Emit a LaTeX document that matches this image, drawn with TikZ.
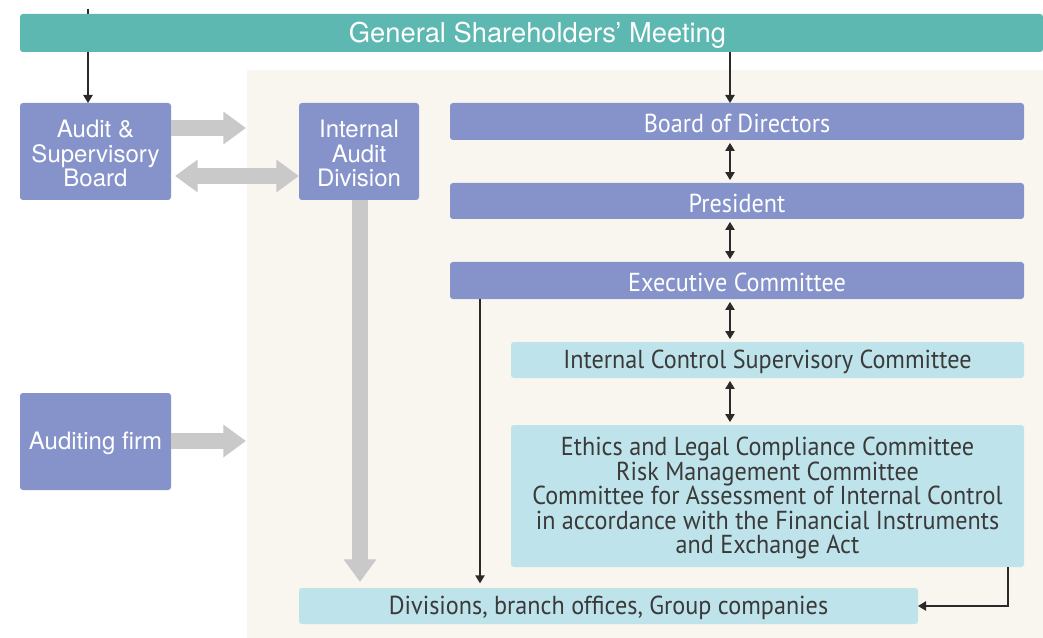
\documentclass[tikz,border=0pt]{standalone}
\usepackage{fontspec}
\usetikzlibrary{arrows.meta}
\newfontfamily\helv{TeX Gyre Heros}
\newfontfamily\cond[FakeStretch=0.93]{PT Sans}
\definecolor{tealbar}{HTML}{5CB8B0}
\definecolor{purp}{HTML}{8593CA}
\definecolor{lblue}{HTML}{BFE3EA}
\definecolor{beigebg}{HTML}{F9F6F0}
\definecolor{grayarr}{HTML}{C8C9C8}
\definecolor{dtext}{HTML}{3A3A3A}
\definecolor{lineclr}{HTML}{2A2A2A}
\newcommand\mkbox[8]{%
  \node[#6, minimum width={(#4-#2)*0.75pt}, minimum height={(#5-#3)*0.75pt}] (#1) at ({(#2+#4)/2},{(#3+#5)/2}) {};
  \node[txt, #7] (#1t) at ([yshift=-1.7pt]#1.center) {#8};}
\begin{document}
\begin{tikzpicture}[x=0.75pt,y=-0.75pt,
  basebox/.style={inner sep=0pt, outer sep=0pt, rounded corners=2.2pt},
  pbox/.style={basebox, fill=purp},
  lbox/.style={basebox, fill=lblue},
  txt/.style={inner sep=0pt, align=center},
  lefttxt/.style={text=white, font=\helv\fontsize{18}{18.4}\selectfont},
  rightw/.style={text=white, font=\cond\fontsize{19.5}{18.4}\selectfont},
  rightd/.style={text=dtext, font=\cond\fontsize{19.5}{18.4}\selectfont},
  connarrow/.style={draw=lineclr, line width=1pt, -{Triangle[width=7pt,length=6pt]}},
  dblarrow/.style={draw=lineclr, line width=1pt, {Triangle[width=7pt,length=6pt]}-{Triangle[width=7pt,length=6pt]}, shorten <=2.2pt, shorten >=2.2pt},
  grayblock/.style={draw=grayarr, line width=11.5pt, -{Triangle[width=23.5pt,length=17pt]}},
  graydbl/.style={draw=grayarr, line width=11.5pt, {Triangle[width=23.5pt,length=17pt]}-{Triangle[width=23.5pt,length=17pt]}}
]
\useasboundingbox (0,0) rectangle (1043,638);
\fill[white] (0,0) rectangle (1043,638);
\fill[beigebg] (247,70) rectangle (1043,638);

% left boxes
\mkbox{audit}{20}{103}{171}{200}{pbox}{lefttxt}{Audit \&\\Supervisory\\Board}
\mkbox{firm}{20}{393}{171}{490}{pbox}{lefttxt}{Auditing firm}
\mkbox{iad}{299}{103}{419}{200}{pbox}{lefttxt}{Internal\\Audit\\Division}

% right column
\mkbox{board}{450}{103}{1024}{140}{pbox}{rightw}{Board of Directors}
\mkbox{pres}{450}{183}{1024}{219}{pbox}{rightw}{President}
\mkbox{exec}{450}{262}{1024}{299}{pbox}{rightw}{Executive Committee}
\mkbox{ics}{511}{342}{1024}{378}{lbox}{rightd}{Internal Control Supervisory Committee}
\mkbox{ethics}{511}{425}{1024}{567}{lbox}{rightd}{Ethics and Legal Compliance Committee\\Risk Management Committee\\Committee for Assessment of Internal Control\\in accordance with the Financial Instruments\\and Exchange Act}
\mkbox{div}{299}{588}{918}{624}{lbox}{rightd}{Divisions, branch offices, Group companies}

% line from top to audit board (passes under the bar)
\coordinate (topA) at (88,9);
\draw[connarrow] (topA) -- (audit.north -| topA);

% general shareholders meeting bar
\mkbox{gsm}{20}{14}{1043}{52}{basebox,fill=tealbar}{text=white,font=\helv\fontsize{20.5}{22}\selectfont,xshift=4.5pt}{General Shareholders’ Meeting}

\coordinate (colx) at (730,0);
\coordinate (colE) at (480,0);
\coordinate (colR) at (1008,0);
\coordinate (colI) at (360,0);
\coordinate (endA) at (246,128);
\coordinate (dblY) at (0,176);
\coordinate (endF) at (246,441);

\draw[connarrow] (gsm.south -| colx) -- (board.north -| colx);
\draw[dblarrow] (board.south -| colx) -- (pres.north -| colx);
\draw[dblarrow] (pres.south -| colx) -- (exec.north -| colx);
\draw[dblarrow] (exec.south -| colx) -- (ics.north -| colx);
\draw[dblarrow] (ics.south -| colx) -- (ethics.north -| colx);
\draw[connarrow, shorten >=3.5pt] (exec.south -| colE) -- (div.north -| colE);
\draw[connarrow] (ethics.south -| colR) |- (div.east);

% gray block arrows
\draw[grayblock] (audit.east |- endA) -- (endA);
\draw[graydbl, shorten <=3pt] (audit.east |- dblY) -- (iad.west |- dblY);
\draw[grayblock] (firm.east |- endF) -- (endF);
\draw[grayblock, shorten >=4.5pt] (iad.south -| colI) -- (div.north -| colI);
\end{tikzpicture}
\end{document}
